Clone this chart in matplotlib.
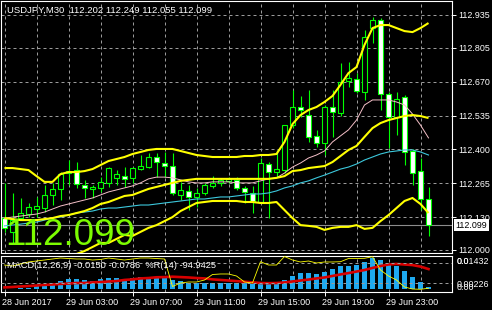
import matplotlib
matplotlib.use("Agg")
import matplotlib.pyplot as plt
from matplotlib.transforms import blended_transform_factory, ScaledTranslation

plt.rcParams['font.family'] = ['Liberation Sans', 'DejaVu Sans']

# ---------------- data (USDJPY M30) ----------------
bars = list(range(54))
open_ = [112.127, 112.072, 112.127, 112.143, 112.163, 112.167, 112.219, 112.243, 112.306, 112.318,
         112.259, 112.243, 112.247, 112.267, 112.287, 112.294, 112.287, 112.322, 112.330, 112.370,
         112.346, 112.334, 112.219, 112.235, 112.211, 112.227, 112.255, 112.267, 112.275, 112.279,
         112.247, 112.227, 112.191, 112.342, 112.310, 112.318, 112.497, 112.569, 112.537, 112.454,
         112.426, 112.569, 112.545, 112.673, 112.680, 112.629, 112.883, 112.915, 112.621, 112.529,
         112.609, 112.394, 112.314, 112.202]
high = [112.267, 112.227, 112.207, 112.187, 112.211, 112.259, 112.267, 112.310, 112.358, 112.350,
        112.279, 112.259, 112.290, 112.330, 112.318, 112.330, 112.330, 112.378, 112.386, 112.386,
        112.390, 112.386, 112.271, 112.259, 112.247, 112.267, 112.294, 112.287, 112.290, 112.290,
        112.255, 112.255, 112.366, 112.350, 112.398, 112.497, 112.637, 112.613, 112.637, 112.478,
        112.577, 112.637, 112.744, 112.748, 112.704, 112.875, 112.927, 112.923, 112.629, 112.629,
        112.617, 112.402, 112.366, 112.249]
low = [112.072, 112.028, 112.119, 112.131, 112.131, 112.151, 112.179, 112.199, 112.259, 112.247,
       112.207, 112.207, 112.231, 112.251, 112.259, 112.251, 112.267, 112.318, 112.326, 112.290,
       112.290, 112.219, 112.199, 112.159, 112.171, 112.219, 112.247, 112.255, 112.267, 112.239,
       112.187, 112.147, 112.187, 112.127, 112.290, 112.306, 112.485, 112.529, 112.430, 112.410,
       112.378, 112.450, 112.533, 112.649, 112.625, 112.597, 112.824, 112.557, 112.406, 112.458,
       112.338, 112.259, 112.159, 112.055]
close = [112.088, 112.119, 112.147, 112.171, 112.175, 112.219, 112.243, 112.302, 112.314, 112.263,
         112.247, 112.251, 112.271, 112.326, 112.302, 112.283, 112.326, 112.334, 112.370, 112.350,
         112.334, 112.227, 112.239, 112.211, 112.227, 112.259, 112.267, 112.279, 112.283, 112.247,
         112.231, 112.195, 112.346, 112.310, 112.322, 112.497, 112.569, 112.557, 112.450, 112.426,
         112.569, 112.549, 112.669, 112.684, 112.633, 112.848, 112.915, 112.621, 112.529, 112.601,
         112.390, 112.306, 112.203, 112.099]

bb_upper = [112.326, 112.326, 112.322, 112.318, 112.294, 112.271, 112.271, 112.302, 112.310, 112.310,
            112.314, 112.322, 112.338, 112.354, 112.362, 112.370, 112.382, 112.390, 112.398, 112.402,
            112.402, 112.402, 112.394, 112.386, 112.378, 112.374, 112.370, 112.370, 112.370, 112.370,
            112.374, 112.374, 112.378, 112.378, 112.382, 112.430, 112.501, 112.537, 112.557, 112.569,
            112.589, 112.613, 112.657, 112.704, 112.728, 112.816, 112.883, 112.895, 112.895, 112.883,
            112.871, 112.867, 112.883, 112.903]
bb_middle = [112.127, 112.123, 112.119, 112.119, 112.119, 112.123, 112.127, 112.135, 112.139, 112.147,
             112.155, 112.167, 112.183, 112.191, 112.203, 112.215, 112.219, 112.231, 112.243, 112.251,
             112.259, 112.267, 112.275, 112.279, 112.283, 112.283, 112.283, 112.283, 112.283, 112.283,
             112.283, 112.283, 112.283, 112.283, 112.287, 112.294, 112.314, 112.318, 112.326, 112.330,
             112.334, 112.350, 112.374, 112.398, 112.414, 112.450, 112.485, 112.505, 112.517, 112.525,
             112.533, 112.537, 112.533, 112.525]
bb_lower = [111.928, 111.920, 111.916, 111.920, 111.944, 111.968, 111.972, 111.968, 111.972, 111.984,
            111.996, 112.012, 112.028, 112.028, 112.044, 112.060, 112.056, 112.072, 112.088, 112.099,
            112.115, 112.131, 112.155, 112.171, 112.187, 112.191, 112.195, 112.195, 112.195, 112.195,
            112.191, 112.191, 112.187, 112.187, 112.191, 112.159, 112.127, 112.099, 112.096, 112.092,
            112.080, 112.088, 112.092, 112.092, 112.099, 112.084, 112.088, 112.115, 112.139, 112.167,
            112.195, 112.207, 112.183, 112.147]
ma_pink = [112.127, 112.131, 112.135, 112.139, 112.143, 112.151, 112.163, 112.175, 112.183, 112.191,
           112.199, 112.207, 112.219, 112.231, 112.239, 112.247, 112.255, 112.267, 112.283, 112.290,
           112.290, 112.287, 112.279, 112.271, 112.267, 112.267, 112.271, 112.271, 112.271, 112.267,
           112.267, 112.267, 112.275, 112.283, 112.287, 112.306, 112.330, 112.346, 112.366, 112.378,
           112.394, 112.430, 112.454, 112.478, 112.517, 112.577, 112.597, 112.597, 112.597, 112.589,
           112.577, 112.541, 112.497, 112.446]
ma_cyan = [112.096, 112.099, 112.103, 112.107, 112.111, 112.119, 112.127, 112.131, 112.139, 112.147,
           112.151, 112.155, 112.163, 112.167, 112.167, 112.171, 112.175, 112.179, 112.179, 112.183,
           112.187, 112.191, 112.195, 112.199, 112.203, 112.203, 112.207, 112.211, 112.211, 112.215,
           112.219, 112.223, 112.223, 112.227, 112.235, 112.247, 112.255, 112.267, 112.275, 112.287,
           112.298, 112.310, 112.322, 112.330, 112.342, 112.358, 112.370, 112.382, 112.390, 112.394,
           112.398, 112.398, 112.390, 112.378]

macd_hist = [0.0004, 0.0004, 0.0007, 0.0009, 0.0015, 0.0026, 0.0033, 0.0043, 0.0052, 0.0052,
             0.0049, 0.0045, 0.0052, 0.0058, 0.0058, 0.0052, 0.0058, 0.0063, 0.0063, 0.0066,
             0.0066, 0.0049, 0.0043, 0.0035, 0.0031, 0.0031, 0.0031, 0.0031, 0.0031, 0.0031,
             0.0031, 0.0026, 0.0031, 0.0031, 0.0035, 0.0049, 0.0070, 0.0084, 0.0084, 0.0080,
             0.0092, 0.0105, 0.0122, 0.0122, 0.0127, 0.0145, 0.0162, 0.0154, 0.0136, 0.0122,
             0.0097, 0.0066, 0.0037, 0.0014]
macd_signal = [0.0010, 0.0012, 0.0015, 0.0017, 0.0020, 0.0023, 0.0025, 0.0028, 0.0030, 0.0033,
               0.0033, 0.0036, 0.0038, 0.0041, 0.0043, 0.0049, 0.0052, 0.0057, 0.0059, 0.0063,
               0.0064, 0.0066, 0.0064, 0.0062, 0.0059, 0.0057, 0.0052, 0.0049, 0.0046, 0.0043,
               0.0040, 0.0036, 0.0033, 0.0032, 0.0033, 0.0036, 0.0041, 0.0046, 0.0051, 0.0057,
               0.0062, 0.0070, 0.0078, 0.0085, 0.0093, 0.0101, 0.0112, 0.0122, 0.0130, 0.0133,
               0.0130, 0.0127, 0.0119, 0.0106]
wpr = [-26.5, -29.4, -23.5, -17.6, -14.7, -11.8, -8.8, -5.9, -7.4, -8.8,
       -8.8, -11.8, -10.3, -5.9, -8.8, -11.8, -8.8, -5.9, -5.9, -7.4,
       -8.8, -89.7, -79.4, -76.5, -76.5, -70.6, -54.4, -52.9, -52.9, -58.8,
       -76.5, -79.4, -16.8, -26.5, -26.5, -1.5, -11.8, -17.6, -14.7, -20.6,
       -17.6, -17.6, -16.8, -7.4, -7.4, -6.8, -2.1, -41.2, -58.8, -70.6,
       -91.2, -97.1, -97.9, -94.9]

price_ticks = [112.935, 112.805, 112.670, 112.535, 112.400, 112.265, 112.130, 112.000]
time_label_bars = [0, 8, 16, 24, 32, 40, 48]
time_labels = ["28 Jun 2017", "29 Jun 03:00", "29 Jun 07:00", "29 Jun 11:00",
               "29 Jun 15:00", "29 Jun 19:00", "29 Jun 23:00"]
last_price = 112.099
title = "USDJPY,M30  112.202 112.249 112.055 112.099"
sub_label = "MACD(12,26,9) -0.0150 -0.0786  %R(14) -94.9425"
sub_scale_labels = ["0.01432", "0.00226"]

# ---------------- layout ----------------
W, H = 492, 310
fig = plt.figure(figsize=(W / 100, H / 100), dpi=100, facecolor='black')


def fx(px):
    return px / W


def fy(py):
    return 1 - py / H


GRID = dict(color='#9a9a9a', lw=0.72, ls=(0, (3, 3)))
LIME = '#00ff00'

ax = fig.add_axes([fx(1), fy(253), 451 / W, 252 / H], facecolor='black')
sub = fig.add_axes([fx(1), fy(292), 451 / W, 36 / H], facecolor='black')

ppp = 0.935 / 235.0  # price per pixel
ax.set_ylim(112.0 - 3 * ppp, 112.0 + 249 * ppp)
xl = (-3.5 / 8, 447.5 / 8)
ax.set_xlim(*xl)
sub.set_xlim(*xl)

for a in (ax, sub):
    for s in a.spines.values():
        s.set_color('white')
        s.set_linewidth(0.8)

# grid
for i in range(0, 56, 4):
    ax.axvline(i, zorder=0.5, **GRID)
    sub.axvline(i, zorder=0.5, **GRID)
for p in price_ticks:
    ax.axhline(p, zorder=0.5, **GRID)

ax.axhline(last_price, color='#8c8c8c', lw=0.8, zorder=0.8)

# candles
ax.vlines(bars, low, high, color=LIME, lw=0.8, zorder=2)
for i in bars:
    o, c = open_[i], close[i]
    fill = 'black' if c >= o else 'white'
    ax.bar(i, max(abs(c - o), 0.0006), bottom=min(o, c), width=0.6,
           facecolor=fill, edgecolor=LIME, linewidth=0.8, zorder=3)

# indicators
ax.plot(bars, ma_cyan, color='#3cc8dc', lw=0.8, zorder=4)
ax.plot(bars, ma_pink, color='#f5c0c8', lw=0.7, zorder=4)
for band in (bb_upper, bb_middle, bb_lower):
    ax.plot(bars, band, color='#ffff00', lw=1.5, zorder=5, solid_capstyle='butt')

# right price scale
ax.yaxis.tick_right()
ax.set_yticks(price_ticks)
ax.set_yticklabels([f"{p:.3f}" for p in price_ticks])
ax.tick_params(axis='y', colors='white', length=3, width=0.7, labelsize=6.4, pad=1.5)
ax.set_xticks([])

# current price box
tr = blended_transform_factory(ax.transAxes, ax.transData)
ax.text(1.0 + 3.5 / 451, last_price, f"{last_price:.3f}", transform=tr, ha='left', va='center',
        color='black', fontsize=6.4, zorder=10, clip_on=False,
        bbox=dict(boxstyle='square,pad=0.18', fc='white', ec='none'))

# title and big price text
fig.text(fx(7), fy(10.7), title, color='white', fontsize=6.8, ha='left', va='center')
fig.text(fx(5.5), fy(245), f"{last_price:.3f}", color='#7cfc00', fontsize=26.5,
         family=['Liberation Sans Narrow', 'Liberation Sans', 'DejaVu Sans'],
         ha='left', va='baseline', zorder=20)

# ---------------- sub window ----------------
sub.set_ylim(-0.001415, 0.01745)
sub.bar(bars, macd_hist, width=0.6, color='#1eaaf0', zorder=2)
sub.plot(bars, macd_signal, color='#d80000', lw=1.9, zorder=3)
sub2 = sub.twinx()
sub2.set_xlim(*xl)
sub2.set_ylim(-105.9, 0)
for lvl in (-20, -80):
    sub2.axhline(lvl, zorder=0.5, **GRID)
sub2.plot(bars, wpr, color='#ffff00', lw=0.6, zorder=4)
sub2.set_yticks([])
for s in sub2.spines.values():
    s.set_visible(False)

sub.set_yticks([])
sub.set_xticks(time_label_bars)
sub.set_xticklabels(time_labels)
sub.tick_params(axis='x', colors='white', length=3, width=0.7, labelsize=6.5, pad=1.5)
off = ScaledTranslation(-2 / 100, 0, fig.dpi_scale_trans)
for lab in sub.get_xticklabels():
    lab.set_ha('left')
    lab.set_transform(lab.get_transform() + off)

fig.text(fx(7), fy(265), sub_label, color='white', fontsize=6.7, ha='left', va='center')
fig.text(fx(457), fy(262), sub_scale_labels[0], color='white', fontsize=6.4, ha='left', va='center')
fig.text(fx(457), fy(262), "0.0", color='white', fontsize=6.4, ha='left', va='center')
fig.text(fx(457), fy(284.5), sub_scale_labels[1], color='white', fontsize=6.4, ha='left', va='center')
fig.text(fx(457), fy(287.5), "0.00", color='white', fontsize=6.4, ha='left', va='center')

fig.savefig('out.png', dpi=100, facecolor='black')
